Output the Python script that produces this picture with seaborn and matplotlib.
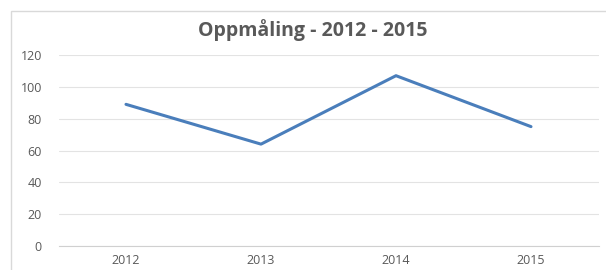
import matplotlib
matplotlib.use("Agg")
import matplotlib.pyplot as plt
from matplotlib.patches import Rectangle
import seaborn as sns
import pandas as pd

# data
years = ["2012", "2013", "2014", "2015"]
values = [89, 64, 107, 75]

title = "Oppmåling - 2012 - 2015"
text_color = "#595959"
line_color = "#4A7EBB"
grid_color = "#E3E3E3"

sns.set_theme(style="white")
plt.rcParams['font.family'] = ['Open Sans', 'DejaVu Sans']

df = pd.DataFrame({"year": years, "value": values})

W, H = 606, 270
fig = plt.figure(figsize=(W / 100, H / 100), dpi=100)

# chart area border (only left/top visible in the reference)
fig.patches.append(Rectangle((11 / W, -0.1), 1.2, (H - 11) / H + 0.1,
                             transform=fig.transFigure, fill=False,
                             edgecolor="#D9D9D9", linewidth=1))

ax = fig.add_axes([58.5 / W, (H - 246) / H, 540 / W, (246 - 55) / H])
sns.lineplot(data=df, x="year", y="value", ax=ax, color=line_color,
             linewidth=2.2, sort=False)

ax.set_xlim(-0.5, 3.5)
ax.set_ylim(0, 120)
ax.set_yticks(range(0, 121, 20))
ax.grid(axis="y", color=grid_color, linewidth=0.8)
ax.set_axisbelow(True)
for s in ["top", "right", "left"]:
    ax.spines[s].set_visible(False)
ax.spines["bottom"].set_color("#D0D0D0")
ax.spines["bottom"].set_linewidth(0.8)
ax.tick_params(axis="both", length=0, labelsize=9, labelcolor=text_color)
ax.tick_params(axis="x", pad=6)
ax.tick_params(axis="y", pad=12)
ax.set_xlabel("")
ax.set_ylabel("")

fig.text(313 / W, 1 - 30 / H, title, ha="center", va="center",
         fontsize=14, fontweight="bold", color=text_color)

fig.savefig("out.png", dpi=100)
